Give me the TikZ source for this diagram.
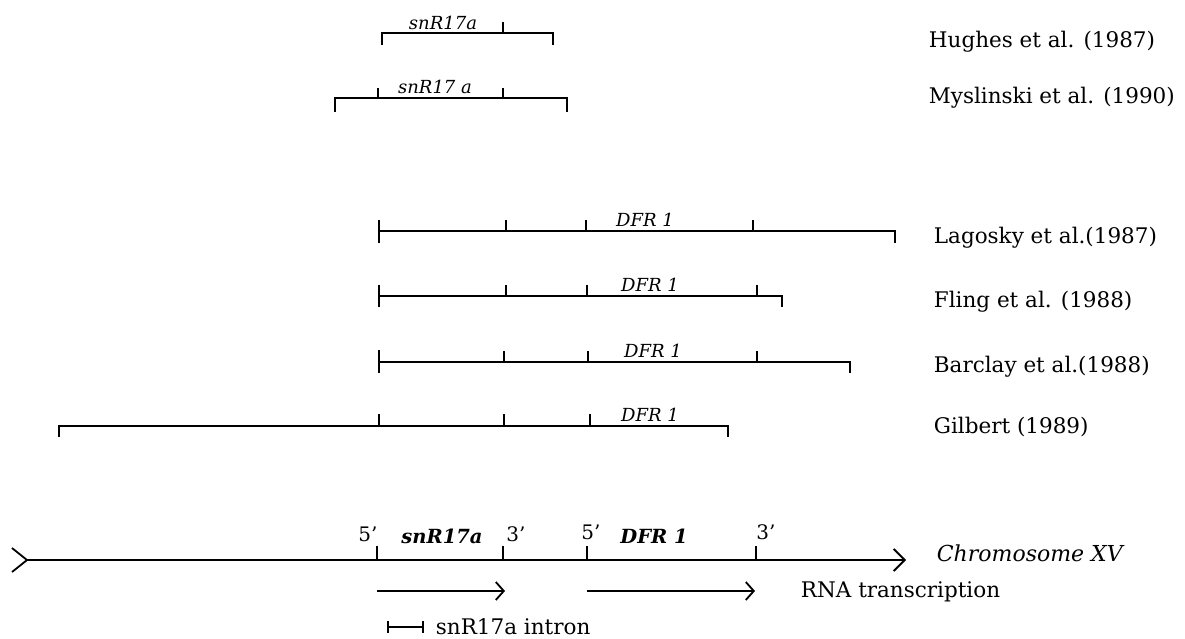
\documentclass[tikz,border=0pt]{standalone}
\usepackage{fontspec}
\setmainfont{DejaVu Serif}
\usetikzlibrary{arrows.meta}
\begin{document}
\begin{tikzpicture}[x=1pt,y=-1pt, line width=1.8pt,
  lbl/.style={anchor=west, inner sep=0pt, font=\fontsize{21.5}{24}\selectfont},
  gene/.style={anchor=base, inner sep=0pt, font=\fontsize{18}{20}\selectfont\itshape},
  bgene/.style={anchor=base, inner sep=0pt, font=\fontsize{19.5}{22}\selectfont\bfseries\itshape},
  prime/.style={anchor=base, inner sep=0pt, font=\fontsize{20}{22}\selectfont},
  tr/.style={-{Straight Barb[length=8pt,width=18pt,line width=1.8pt]}},
  chrom/.style={-{Straight Barb[length=11pt,width=22pt,line width=1.8pt]}}]
\useasboundingbox (0,0) rectangle (1185,639);
% Hughes
\draw (382,45) -- (382,33) -- (553,33) -- (553,45);
\draw (503,33) -- (503,22);
\node[gene] (h) at (443,30) {snR17a};
\node[lbl] (hl) at (928,42) {Hughes et al. (1987)};
% Myslinski
\draw (335,112) -- (335,98) -- (567,98) -- (567,112);
\draw (378,98) -- (378,88);
\draw (503,98) -- (503,88);
\node[gene] (m) at (435,94) {snR17 a};
\node[lbl] (ml) at (928,98) {Myslinski et al. (1990)};
% Lagosky
\draw (379,220) -- (379,243);
\draw (379,231) -- (895,231) -- (895,243);
\foreach \x in {506,586,753} \draw (\x,231) -- (\x,220);
\node[gene] (l) at (645,226) {DFR 1};
\node[lbl] (ll) at (933,238) {Lagosky et al.(1987)};
% Fling
\draw (379,285) -- (379,307);
\draw (379,296) -- (782,296) -- (782,307);
\foreach \x in {506,587,757} \draw (\x,296) -- (\x,285);
\node[gene] (f) at (650,291) {DFR 1};
\node[lbl] (fl) at (933,302) {Fling et al. (1988)};
% Barclay
\draw (379,350) -- (379,373);
\draw (379,362) -- (850,362) -- (850,373);
\foreach \x in {504,588,757} \draw (\x,362) -- (\x,351);
\node[gene] (b) at (653,357) {DFR 1};
\node[lbl] (bl) at (933,367) {Barclay et al.(1988)};
% Gilbert
\draw (59,437) -- (59,426) -- (728,426) -- (728,437);
\foreach \x in {379,504,590} \draw (\x,426) -- (\x,414);
\node[gene] (g) at (650,421) {DFR 1};
\node[lbl] (gl) at (933,427) {Gilbert (1989)};
% Chromosome
\coordinate (cs) at (27,560);
\coordinate (ce) at (906,560);
\draw (12,548) -- (cs) -- (12,572);
\draw[chrom] (cs) -- (ce);
\foreach \x in {377,503,587,756} \draw (\x,560) -- (\x,546);
\node[prime] (p1) at (368,541) {5’};
\node[bgene] (cs17) at (442,543) {snR17a};
\node[prime] (p2) at (516,541) {3’};
\node[prime] (p3) at (591,539) {5’};
\node[bgene] (cd) at (654,543) {DFR 1};
\node[prime] (p4) at (766,539) {3’};
\node[lbl, font=\fontsize{22}{24}\selectfont\itshape] (cx) at (936,553) {Chromosome XV};
% transcription arrows
\coordinate (a1) at (377,591); \coordinate (a2) at (505,591);
\coordinate (a3) at (587,591); \coordinate (a4) at (755,591);
\draw[tr] (a1) -- (a2);
\draw[tr] (a3) -- (a4);
\node[lbl] (rna) at (800,592) {RNA transcription};
% intron
\draw[line width=1.2pt] (388,621) -- (388,633);
\draw[line width=1.2pt] (388,627) -- (423,627);
\draw[line width=1.2pt] (423,621) -- (423,633);
\node[lbl] (it) at (435,627) {snR17a intron};
\end{tikzpicture}
\end{document}
